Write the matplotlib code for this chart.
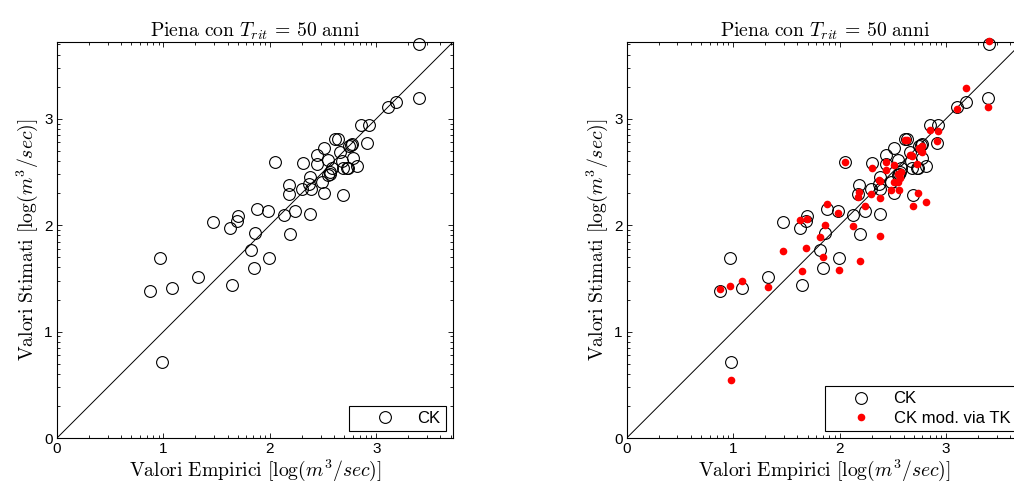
import numpy as np
import matplotlib
matplotlib.use("Agg")
import matplotlib.pyplot as plt
from matplotlib.ticker import FixedLocator

plt.rcParams['mathtext.fontset'] = 'cm'
plt.rcParams['font.family'] = ['Liberation Sans', 'DejaVu Sans']

# log10 of peak discharge: empirical vs estimated (CK) and modified CK via TK
q_emp = [3.404, 3.398, 3.185, 3.105, 2.853, 2.928, 2.914, 2.612, 2.637, 2.512,
	2.745, 2.762, 2.775, 2.659, 2.440, 2.550, 2.675, 2.778, 2.816, 2.684,
	2.728, 2.734, 2.580, 2.565, 2.550, 2.377, 2.487, 2.371, 2.183, 2.299,
	2.384, 2.512, 2.177, 2.690, 2.308, 2.440, 2.048, 1.882, 1.985, 2.236,
	1.697, 2.130, 2.377, 1.688, 1.466, 1.629, 1.864, 2.190, 1.820, 1.990,
	0.968, 1.848, 1.325, 1.647, 1.080, 0.877, 0.983, 2.560]
q_ck = [3.705, 3.191, 3.157, 3.113, 2.942, 2.942, 2.775, 2.806, 2.806, 2.728,
	2.740, 2.752, 2.762, 2.690, 2.659, 2.612, 2.603, 2.628, 2.558, 2.534,
	2.540, 2.537, 2.534, 2.502, 2.471, 2.455, 2.408, 2.384, 2.377, 2.340,
	2.340, 2.299, 2.290, 2.283, 2.581, 2.572, 2.596, 2.148, 2.133, 2.133,
	2.089, 2.092, 2.101, 2.039, 2.026, 1.970, 1.926, 1.920, 1.766, 1.691,
	1.691, 1.594, 1.513, 1.441, 1.412, 1.381, 0.714, 2.480]
q_tk = [3.730, 3.107, 3.285, 3.091, 2.894, 2.881, 2.794, 2.803, 2.803, 2.565,
	2.725, 2.693, 2.740, 2.662, 2.590, 2.478, 2.663, 2.690, 2.220, 2.646,
	2.578, 2.302, 2.499, 2.446, 2.402, 2.415, 2.333, 2.427, 2.309, 2.292,
	2.252, 2.402, 2.268, 2.180, 2.534, 2.515, 2.590, 2.199, 2.114, 2.180,
	2.061, 1.989, 1.895, 1.785, 1.760, 2.048, 2.001, 1.666, 1.885, 1.575,
	1.431, 1.697, 1.419, 1.569, 1.478, 1.400, 0.545, 2.327]

LIM = 3.72
title = r"$\mathrm{Piena\ con}\ T_{rit} \,=\, 50\ \mathrm{anni}$"
xlab = r"$\mathrm{Valori\ Empirici}\ [\log(m^3/sec)]$"
ylab = r"$\mathrm{Valori\ Stimati}\ [\log(m^3/sec)]$"

def setup(ax):
	ax.plot([0, LIM], [0, LIM], color='black', lw=0.7, zorder=1)
	ax.set_xlim(0, LIM)
	ax.set_ylim(0, LIM)
	ax.set_xticks([0, 1, 2, 3])
	ax.set_yticks([0, 1, 2, 3])
	minor = [n + np.log10(k) for n in range(4) for k in range(2, 10) if n + np.log10(k) < LIM]
	ax.xaxis.set_minor_locator(FixedLocator(minor))
	ax.yaxis.set_minor_locator(FixedLocator(minor))
	ax.tick_params(which='both', direction='in', top=True, right=True, labelsize=11, width=0.6, pad=3)
	ax.tick_params(which='major', length=3.6)
	ax.tick_params(which='minor', length=2.0)
	for s in ax.spines.values():
		s.set_linewidth(0.8)
	ax.set_title(title, fontsize=14.2, pad=4)
	ax.set_xlabel(xlab, fontsize=14.2, labelpad=1)
	ax.set_ylabel(ylab, fontsize=14.2, labelpad=3)

fig = plt.figure(figsize=(10.14, 4.9), dpi=100)
ax0 = fig.add_axes([57/1014, 52/490, 396/1014, 396/490])
ax1 = fig.add_axes([626.7/1014, 52/490, 396/1014, 396/490])

legend_kw = dict(loc='lower right', fancybox=False, framealpha=1, edgecolor='black',
	fontsize=12, borderpad=0.3, handlelength=3.7, handletextpad=0.1,
	labelspacing=0.25, borderaxespad=0.45)

setup(ax0)
ax0.plot(q_emp, q_ck, 'o', ms=8.5, mfc='none', mec='black', mew=0.8, label='CK', clip_on=False, zorder=3)
lg = ax0.legend(**legend_kw)
lg.get_frame().set_linewidth(0.8)

setup(ax1)
ax1.plot(q_emp, q_ck, 'o', ms=8.5, mfc='none', mec='black', mew=0.8, label='CK', clip_on=False, zorder=3)
ax1.plot(q_emp, q_tk, 'o', ms=5.5, mfc='red', mec='red', mew=0, label='CK mod. via TK', clip_on=False, zorder=4)
lg = ax1.legend(**legend_kw)
lg.get_frame().set_linewidth(0.8)

fig.savefig('out.png', dpi=100)
